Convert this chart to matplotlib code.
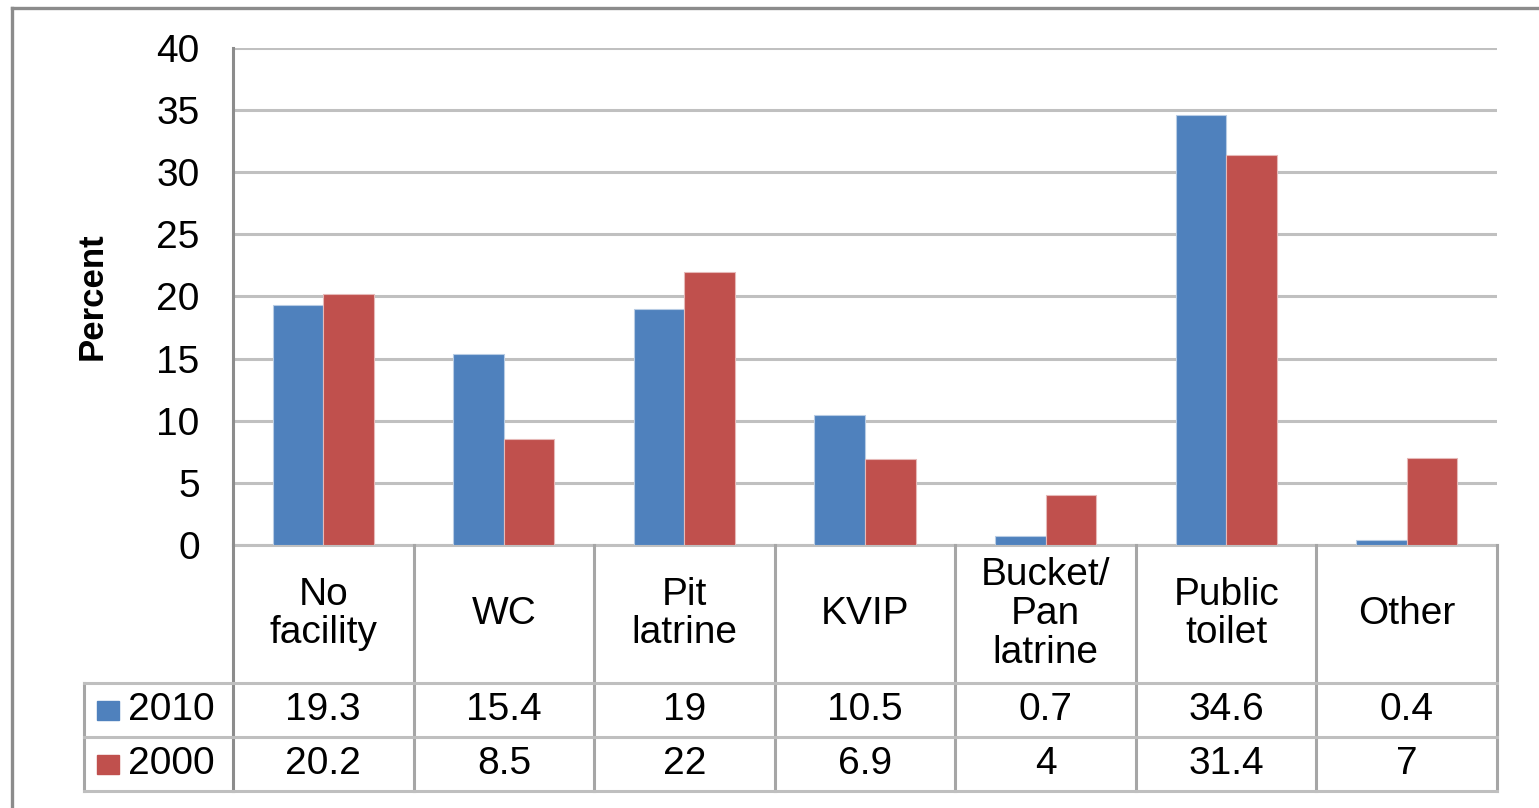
import matplotlib.pyplot as plt
from matplotlib.patches import Rectangle
import numpy as np

plt.rcParams['font.family'] = ['Liberation Sans', 'DejaVu Sans']

# Data
categories = ['No\nfacility', 'WC', 'Pit\nlatrine', 'KVIP', 'Bucket/\nPan\nlatrine',
              'Public\ntoilet', 'Other']
years = ['2010', '2000']
vals_2010 = [19.3, 15.4, 19, 10.5, 0.7, 34.6, 0.4]
vals_2000 = [20.2, 8.5, 22, 6.9, 4, 31.4, 7]
colors = ['#4F81BD', '#C0504D']
yticks = [0, 5, 10, 15, 20, 25, 30, 35, 40]

W, H = 1539, 808
fig = plt.figure(figsize=(W / 100, H / 100), dpi=100)

# outer frame (left + top visible)
fig.add_artist(plt.Line2D([12 / W, 12 / W], [0, 1 - 8 / H], color='#8c8c8c', lw=2.4,
                          transform=fig.transFigure))
fig.add_artist(plt.Line2D([12 / W, 1], [1 - 8 / H, 1 - 8 / H], color='#8c8c8c', lw=2.4,
                          transform=fig.transFigure))

# main plot area
ax = fig.add_axes([233 / W, 1 - 545 / H, (1497 - 233) / W, (545 - 48) / H])
x = np.arange(len(categories))
bw = 0.28
ax.bar(x - bw / 2, vals_2010, bw, color=colors[0], edgecolor='#b8cce4', linewidth=0.8, zorder=3)
ax.bar(x + bw / 2, vals_2000, bw, color=colors[1], edgecolor='#e6b9b8', linewidth=0.8, zorder=3)
ax.set_xlim(-0.5, len(categories) - 0.5)
ax.set_ylim(0, 40)
ax.set_yticks(yticks)
ax.set_xticks([])
ax.tick_params(axis='y', length=0, pad=24, labelsize=28)
ax.yaxis.grid(True, color='#c0c0c0', lw=2.2, zorder=0)
for s in ['top', 'right']:
    ax.spines[s].set_visible(False)
ax.spines['left'].set_color('#8c8c8c')
ax.spines['left'].set_linewidth(2.2)
ax.spines['bottom'].set_color('#c0c0c0')
ax.spines['bottom'].set_linewidth(2.2)
ax.text(92 / W, 1 - 296 / H, 'Percent', transform=fig.transFigure, rotation=90,
        ha='center', va='center', fontsize=25, fontweight='bold')

# data table below the chart
unit = (1497 - 233) / len(categories)
tx0 = -0.5 - (233 - 84) / unit
tab = fig.add_axes([84 / W, 1 - 791 / H, (1497 - 84) / W, (791 - 545) / H])
tab.set_xlim(tx0, len(categories) - 0.5)
tab.set_ylim(0, 246)
tab.axis('off')

grid_c = '#a6a6a6'
tab.plot([-0.5, -0.5], [0, 246], color='#8c8c8c', lw=2.2, clip_on=False)
for b in np.arange(0.5, len(categories), 1.0):
    tab.plot([b, b], [0, 246], color=grid_c, lw=2.2, clip_on=False)
tab.plot([tx0, tx0], [0, 108], color=grid_c, lw=2.2, clip_on=False)
for yy in [0, 54, 108]:
    tab.plot([tx0, len(categories) - 0.5], [yy, yy], color='#bfbfbf', lw=2.2, clip_on=False)

for i, c in enumerate(categories):
    tab.text(i, 177, c, ha='center', va='center', fontsize=28, linespacing=1.1)

rows = [vals_2010, vals_2000]
row_y = [81, 27]
for r, (vals, yy) in enumerate(zip(rows, row_y)):
    for i, v in enumerate(vals):
        tab.text(i, yy, f'{v:g}', ha='center', va='center', fontsize=28)
    px0 = -0.5 + (97 - 233) / unit
    tab.add_patch(Rectangle((px0, yy - 9.5), 22 / unit, 19, color=colors[r], clip_on=False))
    tab.text(-0.5 + (128 - 233) / unit, yy, years[r], ha='left', va='center', fontsize=28)

fig.savefig('out.png', dpi=100)
